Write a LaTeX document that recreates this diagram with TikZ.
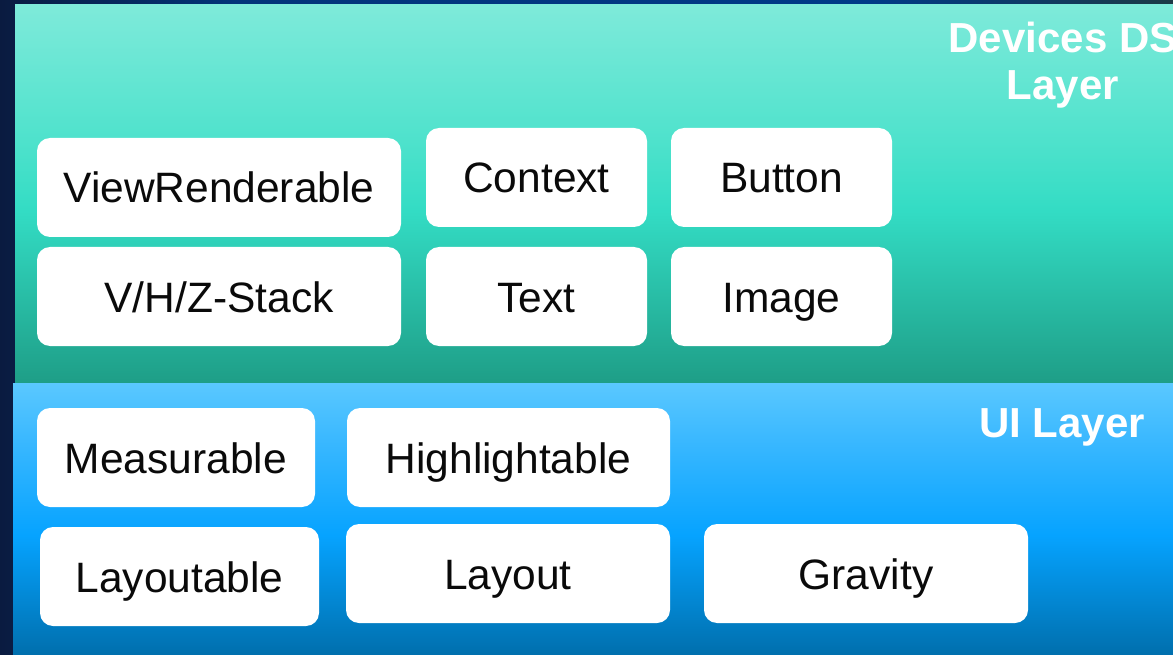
\documentclass[tikz,border=0pt]{standalone}
\usepackage{fontspec}
\setmainfont{Liberation Sans}
\definecolor{bgdark}{HTML}{0A1B40}
\definecolor{bgblue}{HTML}{003A88}
\definecolor{bgslate}{HTML}{1C3A46}
\definecolor{tealtop}{HTML}{7EEADA}
\definecolor{tealmid}{HTML}{4EE2CC}
\definecolor{tealbright}{HTML}{33DCC4}
\definecolor{tealbot}{HTML}{1E9E87}
\definecolor{bluetop}{HTML}{5AC8FF}
\definecolor{bluemid}{HTML}{3AB8FF}
\definecolor{bluebright}{HTML}{06A3FF}
\definecolor{bluebot}{HTML}{006FAD}
\definecolor{ink}{HTML}{0A0A0A}

% backdrop: dark navy drifting to blue, darker again at the far right
\pgfdeclarehorizontalshading{backdrop}{100bp}{
  color(0bp)=(bgdark); color(25bp)=(bgdark); color(35bp)=(bgblue!80!bgdark);
  color(62bp)=(bgblue); color(75bp)=(bgslate); color(100bp)=(bgslate)}
% device layer band (bottom colour first)
\pgfdeclareverticalshading{devband}{100bp}{
  color(0bp)=(tealbot); color(25bp)=(tealbot); color(47.7bp)=(tealbright);
  color(57bp)=(tealmid); color(75bp)=(tealtop); color(100bp)=(tealtop)}
% UI layer band
\pgfdeclareverticalshading{uiband}{100bp}{
  color(0bp)=(bluebot); color(25bp)=(bluebot); color(47bp)=(bluebright);
  color(64.5bp)=(bluemid); color(75bp)=(bluetop); color(100bp)=(bluetop)}

\tikzset{
  card/.style={fill=white, rounded corners=13pt, inner sep=0pt,
    text=ink, align=center, text height=31pt, text depth=0pt,
    font=\fontsize{42.5}{50}\selectfont},
  layertitle/.style={text=white, align=center, inner sep=0pt,
    font=\fontsize{42}{47}\selectfont\bfseries}
}

\begin{document}
\begin{tikzpicture}[x=1pt, y=-1pt]
\useasboundingbox (0,0) rectangle (1173,655);
\shade[shading=backdrop] (0,0) rectangle (1173,655);

% the two layer bands
\shade[shading=devband] (15,5) rectangle (1173,382.5);
\shade[shading=uiband] (13,383) rectangle (1173,655);

% layer titles
\node[layertitle, anchor=north] (devtitle) at (1063,22) {Devices DS\\Layer};
\node[layertitle, anchor=base] (uititle) at (1062,437) {UI Layer};

% devices DS layer components
\node[card, minimum width=364pt, minimum height=99pt] (viewrend) at (219,187.5) {ViewRenderable};
\node[card, minimum width=221pt, minimum height=99pt] (context) at (536.5,177.5) {Context};
\node[card, minimum width=221pt, minimum height=99pt] (button) at (781.5,177.5) {Button};
\node[card, minimum width=364pt, minimum height=99pt] (stack) at (219,296.5) {V/H/Z-Stack};
\node[card, minimum width=221pt, minimum height=99pt] (text) at (536.5,296.5) {Text};
\node[card, minimum width=221pt, minimum height=99pt] (image) at (781.5,296.5) {Image};

% UI layer components
\node[card, minimum width=278pt, minimum height=99pt] (measurable) at (176,457.5) {Measurable};
\node[card, minimum width=323pt, minimum height=99pt] (highlight) at (508.5,457.5) {Highlightable};
\node[card, minimum width=279pt, minimum height=99pt] (layoutable) at (179.5,576.5) {Layoutable};
\node[card, minimum width=324pt, minimum height=99pt] (layout) at (508,573.5) {Layout};
\node[card, minimum width=324pt, minimum height=99pt] (gravity) at (866,573.5) {Gravity};
\end{tikzpicture}
\end{document}
